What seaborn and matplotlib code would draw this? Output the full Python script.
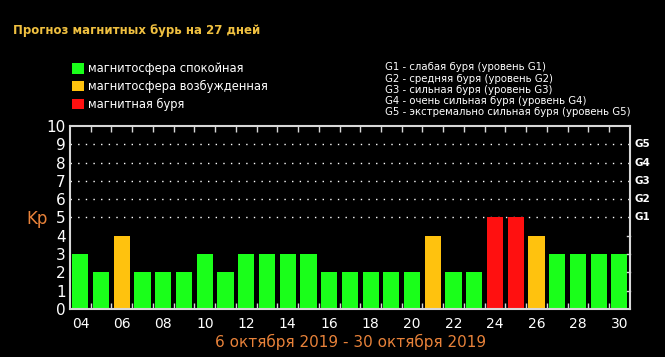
import matplotlib
matplotlib.use("Agg")
import matplotlib.pyplot as plt
from matplotlib.patches import Patch
import numpy as np
import pandas as pd
import seaborn as sns

days = ['04', '05', '06', '07', '08', '09', '10', '11', '12', '13', '14', '15', '16', '17',
        '18', '19', '20', '21', '22', '23', '24', '25', '26', '27', '28', '29', '30']
kp = [3, 2, 4, 2, 2, 2, 3, 2, 3, 3, 3, 3, 2, 2, 2, 2, 2, 4, 2, 2, 5, 5, 4, 3, 3, 3, 3]
status = ['calm', 'calm', 'excited', 'calm', 'calm', 'calm', 'calm', 'calm', 'calm', 'calm',
          'calm', 'calm', 'calm', 'calm', 'calm', 'calm', 'calm', 'excited', 'calm', 'calm',
          'storm', 'storm', 'excited', 'calm', 'calm', 'calm', 'calm']
status_labels = {'calm': 'магнитосфера спокойная',
                 'excited': 'магнитосфера возбужденная',
                 'storm': 'магнитная буря'}
palette = {'calm': '#1aff1a', 'excited': '#ffc20e', 'storm': '#ff1010'}
g_levels = ['G1', 'G2', 'G3', 'G4', 'G5']
g_legend = ['G1 - слабая буря (уровень G1)',
            'G2 - средняя буря (уровень G2)',
            'G3 - сильная буря (уровень G3)',
            'G4 - очень сильная буря (уровень G4)',
            'G5 - экстремально сильная буря (уровень G5)']

df = pd.DataFrame({'day': days, 'kp': kp, 'status': status})

fig = plt.figure(figsize=(6.65, 3.57), dpi=100, facecolor='black')
ax = fig.add_axes([0.1053, 0.1345, 0.8417, 0.5126])
ax.set_facecolor('black')

sns.barplot(data=df, x='day', y='kp', hue='status', palette=palette, dodge=False,
            width=0.78, legend=False, ax=ax, saturation=1, linewidth=0)

ax.set_xlim(-0.5, 26.5)
ax.set_ylim(0, 10)
ax.set_xlabel('')
ax.set_ylabel('')

frame_col = '#d8d8d8'
for s in ax.spines.values():
    s.set_color(frame_col)
    s.set_linewidth(1.5)

# dotted level lines for G1..G5
for lv in range(5, 10):
    ax.axhline(lv, color='white', linestyle=(0, (1, 4.5)), linewidth=1, zorder=0)

ax.set_yticks(range(0, 11))
ax.tick_params(axis='y', length=0, pad=3, labelsize=11, labelcolor='white')
ax.set_xticks(range(0, 27, 2))
ax.set_xticklabels(days[::2])
ax.tick_params(axis='x', which='major', length=0, pad=6, labelsize=10, labelcolor='white')
ax.set_xticks(np.arange(0.5, 26, 1), minor=True)
ax.tick_params(axis='x', which='minor', direction='in', length=4, color=frame_col,
               top=True, bottom=True, width=1)

# small inner ticks on right edge
for lv in range(1, 5):
    ax.plot([26.35, 26.5], [lv, lv], color=frame_col, lw=1, clip_on=False)

for i, g in enumerate(g_levels):
    ax.text(1.008, 5 + i, g, transform=ax.get_yaxis_transform(), color='white',
            fontsize=7.5, va='center', ha='left', fontweight='bold')

fig.text(0.055, 0.387, 'Kp', color='#e8823a', fontsize=12, ha='center', va='center')

fig.text(0.02, 0.915, 'Прогноз магнитных бурь на 27 дней', color='#f0c040',
         fontsize=8.5, fontweight='bold', ha='left', va='center')

handles = [Patch(facecolor=palette[k], label=status_labels[k]) for k in ['calm', 'excited', 'storm']]
leg = fig.legend(handles=handles, loc='upper left', bbox_to_anchor=(0.108, 0.826),
                 frameon=False, fontsize=8.3, labelcolor='white', handlelength=1.05,
                 handleheight=1.05, handletextpad=0.35, labelspacing=0.42, borderpad=0,
                 borderaxespad=0)

fig.text(0.579, 0.825, '\n'.join(g_legend), color='white', fontsize=7.3,
         ha='left', va='top', linespacing=1.15)

fig.text(0.527, 0.042, '6 октября 2019 - 30 октября 2019', color='#e8823a',
         fontsize=11, ha='center', va='center')

fig.savefig('out.png', dpi=100, facecolor='black')
